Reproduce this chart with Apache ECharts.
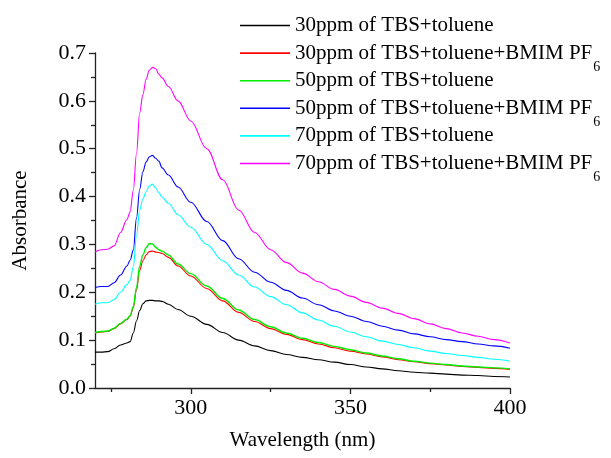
<!DOCTYPE html>
<html>
<head>
<meta charset="utf-8">
<script src="https://cdn.jsdelivr.net/npm/echarts@6/dist/echarts.min.js"></script>
<style>html,body{margin:0;padding:0;background:#fff}#c{width:611px;height:458px}</style>
</head>
<body>
<div id="c"></div>
<script>
const wavelength = [270,272,274,276,278,280,281,282,283,284,285,286,287,288,289,290,291,293,296,300,305,310,315,320,325,330,335,340,345,350,355,360,365,370,375,380,385,390,395,400];
const tbs30 = [0.075,0.075,0.076,0.082,0.090,0.094,0.097,0.115,0.140,0.162,0.176,0.182,0.183,0.183,0.182,0.182,0.181,0.175,0.164,0.150,0.133,0.116,0.100,0.088,0.078,0.070,0.064,0.059,0.054,0.049,0.044,0.040,0.036,0.033,0.031,0.029,0.027,0.026,0.024,0.023];
const tbs30IL = [0.115,0.117,0.118,0.124,0.134,0.143,0.150,0.168,0.205,0.246,0.266,0.278,0.285,0.286,0.284,0.283,0.281,0.273,0.255,0.234,0.208,0.182,0.158,0.139,0.124,0.112,0.101,0.092,0.084,0.077,0.071,0.065,0.059,0.055,0.051,0.048,0.045,0.043,0.041,0.039];
const tbs50 = [0.116,0.118,0.119,0.125,0.135,0.144,0.151,0.170,0.210,0.255,0.278,0.293,0.302,0.301,0.294,0.289,0.286,0.278,0.259,0.239,0.213,0.187,0.163,0.143,0.128,0.115,0.104,0.095,0.087,0.080,0.073,0.067,0.061,0.056,0.052,0.049,0.046,0.044,0.042,0.040];
const tbs50IL = [0.210,0.212,0.212,0.220,0.236,0.255,0.267,0.288,0.355,0.415,0.452,0.472,0.483,0.486,0.480,0.474,0.460,0.445,0.420,0.388,0.348,0.308,0.270,0.242,0.221,0.204,0.188,0.174,0.161,0.150,0.139,0.129,0.121,0.113,0.107,0.101,0.097,0.092,0.088,0.083];
const tbs70 = [0.175,0.178,0.178,0.185,0.200,0.216,0.225,0.253,0.318,0.372,0.395,0.410,0.422,0.426,0.418,0.408,0.399,0.386,0.362,0.336,0.300,0.266,0.236,0.211,0.191,0.174,0.157,0.142,0.129,0.117,0.107,0.098,0.091,0.084,0.077,0.072,0.068,0.064,0.060,0.056];
const tbs70IL = [0.284,0.289,0.290,0.297,0.325,0.352,0.368,0.413,0.490,0.575,0.613,0.645,0.664,0.670,0.667,0.656,0.648,0.630,0.600,0.558,0.500,0.435,0.372,0.325,0.289,0.262,0.240,0.222,0.206,0.192,0.179,0.167,0.156,0.145,0.134,0.124,0.115,0.108,0.101,0.094];

const seriesNames = ['30ppm of TBS+toluene','30ppm of TBS+toluene+BMIM PF','50ppm of TBS+toluene','50ppm of TBS+toluene+BMIM PF','70ppm of TBS+toluene','70ppm of TBS+toluene+BMIM PF'];
const seriesSubs = ['', '6', '', '6', '', '6'];
const seriesValues = [tbs30, tbs30IL, tbs50, tbs50IL, tbs70, tbs70IL];
const seriesColors = ['#000000','#ff0000','#00ee00','#0000ff','#00ffff','#ff00ff'];
const xTickValues = [300, 350, 400];
const xMinorTickValues = [275, 325, 375];

const FONT = "'Liberation Serif', 'Times New Roman', serif";
const chart = echarts.init(document.getElementById('c'), null, {renderer: 'canvas'});

const series = seriesNames.map((name, i) => ({
  name: name,
  type: 'line',
  xAxisIndex: 0,
  yAxisIndex: 0,
  symbol: 'none',
  smooth: 0.35,
  smoothMonotone: 'x',
  lineStyle: {color: seriesColors[i], width: i === 2 ? 1.4 : 1.1},
  itemStyle: {color: seriesColors[i]},
  data: wavelength.map((w, k) => [w, seriesValues[i][k]])
}));

const axisLineStyle = {color: '#222', width: 1.3};

chart.setOption({
  animation: false,
  backgroundColor: '#fff',
  grid: {left: 95, right: 101, top: 53, bottom: 70, containLabel: false, outerBoundsMode: 'none'},
  legend: {
    orient: 'vertical',
    left: 240,
    top: 15,
    padding: 0,
    icon: 'rect',
    itemWidth: 50,
    itemHeight: 1.6,
    itemGap: -3.9,
    data: seriesNames,
    formatter: function (name) {
      const i = seriesNames.indexOf(name);
      return '{m|' + name + '}{s|' + (seriesSubs[i] || ' ') + '}';
    },
    textStyle: {
      fontFamily: FONT, fontSize: 21, color: '#000',
      rich: {
        m: {fontFamily: FONT, fontSize: 21, lineHeight: 42, color: '#000'},
        s: {fontFamily: FONT, fontSize: 14, lineHeight: 14, color: '#000', verticalAlign: 'bottom', padding: [0, 0, 0, 1]}
      }
    }
  },
  xAxis: [{
    type: 'value',
    min: 270,
    max: 400,
    position: 'bottom',
    name: 'Wavelength (nm)',
    nameLocation: 'middle',
    nameGap: 42,
    nameTextStyle: {fontFamily: FONT, fontSize: 21, color: '#000'},
    axisLine: {show: true, onZero: false, lineStyle: axisLineStyle},
    axisTick: {show: true, length: 6, lineStyle: axisLineStyle, customValues: xTickValues},
    axisLabel: {fontFamily: FONT, fontSize: 22, color: '#000', margin: 9, customValues: xTickValues},
    splitLine: {show: false}
  }, {
    type: 'value',
    min: 270,
    max: 400,
    position: 'bottom',
    axisLine: {show: false},
    axisTick: {show: true, length: 4, lineStyle: axisLineStyle, customValues: xMinorTickValues},
    axisLabel: {show: false},
    splitLine: {show: false}
  }],
  yAxis: {
    type: 'value',
    min: 0,
    max: 0.7,
    interval: 0.1,
    name: 'Absorbance',
    nameLocation: 'middle',
    nameGap: 64,
    nameTextStyle: {fontFamily: FONT, fontSize: 21, color: '#000'},
    axisLine: {show: true, lineStyle: axisLineStyle},
    axisTick: {show: true, length: 6, lineStyle: axisLineStyle},
    minorTick: {show: true, splitNumber: 2, length: 4, lineStyle: axisLineStyle},
    axisLabel: {fontFamily: FONT, fontSize: 22, color: '#000', margin: 9, formatter: v => v.toFixed(1)},
    splitLine: {show: false},
    minorSplitLine: {show: false}
  },
  series: series
});
</script>
</body>
</html>
